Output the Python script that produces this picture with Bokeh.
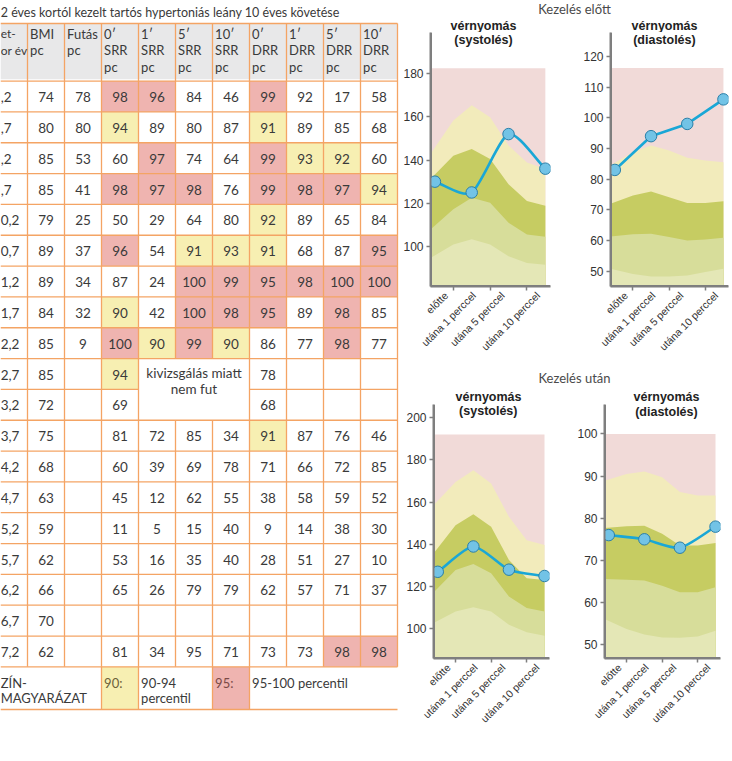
import math
from bokeh.plotting import figure
from bokeh.models import Range1d, FixedTicker
from bokeh.layouts import row, column
from bokeh.embed import file_html
from bokeh.resources import INLINE
from bokeh.core.properties import value

# ---------------- data: table ----------------
TITLE = "2 éves kortól kezelt tartós hypertoniás leány 10 éves követése"
AGE_HEADER = ["et-", "or év"]
COL_HEADERS = [["BMI", "pc"], ["Futás", "pc"],
               ["0′", "SRR", "pc"], ["1′", "SRR", "pc"], ["5′", "SRR", "pc"], ["10′", "SRR", "pc"],
               ["0′", "DRR", "pc"], ["1′", "DRR", "pc"], ["5′", "DRR", "pc"], ["10′", "DRR", "pc"]]
AGES = [",2", ",7", ",2", ",7", "0,2", "0,7", "1,2", "1,7", "2,2", "2,7",
        "3,2", "3,7", "4,2", "4,7", "5,2", "5,7", "6,2", "6,7", "7,2"]
BMI = [74, 80, 85, 85, 79, 89, 89, 84, 85, 85, 72, 75, 68, 63, 59, 62, 66, 70, 62]
FUTAS = [78, 80, 53, 41, 25, 37, 34, 32, 9, None, None, None, None, None, None, None, None, None, None]
SRR0 = [98, 94, 60, 98, 50, 96, 87, 90, 100, 94, 69, 81, 60, 45, 11, 53, 65, None, 81]
SRR1 = [96, 89, 97, 97, 29, 54, 24, 42, 90, None, None, 72, 39, 12, 5, 16, 26, None, 34]
SRR5 = [84, 80, 74, 98, 64, 91, 100, 100, 99, None, None, 85, 69, 62, 15, 35, 79, None, 95]
SRR10 = [46, 87, 64, 76, 80, 93, 99, 98, 90, None, None, 34, 78, 55, 40, 40, 79, None, 71]
DRR0 = [99, 91, 99, 99, 92, 91, 95, 95, 86, 78, 68, 91, 71, 38, 9, 28, 62, None, 73]
DRR1 = [92, 89, 93, 98, 89, 68, 98, 89, 77, None, None, 87, 66, 58, 14, 51, 57, None, 73]
DRR5 = [17, 85, 92, 97, 65, 87, 100, 98, 98, None, None, 76, 72, 59, 38, 27, 71, None, 98]
DRR10 = [58, 68, 60, 94, 84, 95, 100, 85, 77, None, None, 46, 85, 52, 30, 10, 37, None, 98]
# highlight per cell: P = 95-100 percentil, Y = 90-94 percentil
HIGHLIGHT = ["..PP..P...", "..Y...Y...", "...P..PYY.", "..PPP.PPPY", "......Y...",
             "..P.YYY..P", "....PPPPPP", "..Y.PPP.P.", "..PYPY..P.", "..Y.......",
             "..........", "......Y...", "..........", "..........", "..........",
             "..........", "..........", "..........", "........PP"]
MERGED_TEXT = ["kivizsgálás miatt", "nem fut"]
LEGEND_LEFT = ["ZÍN-", "MAGYARÁZAT"]
LEGEND_Y = "90:"
LEGEND_Y_TEXT = ["90-94", "percentil"]
LEGEND_P = "95:"
LEGEND_P_TEXT = "95-100 percentil"

# ---------------- data: charts ----------------
HEAD_BEFORE = "Kezelés előtt"
HEAD_AFTER = "Kezelés után"
T1 = "vérnyomás"
T2_SYS = "(systolés)"
T2_DIA = "(diastolés)"
X_LABELS = ["előtte", "utána 1 perccel", "utána 5 perccel", "utána 10 perccel"]
X_POS = [0, 1, 2, 3]
BX = [0, 0.5, 1, 1.5, 2, 2.5, 3]

SYS_BEFORE = [130, 125, 152, 136]
DIA_BEFORE = [83, 94, 98, 106]
SYS_AFTER = [127, 139, 128, 125]
DIA_AFTER = [76, 75, 73, 78]

SYS_BEFORE_P95 = [142.8, 158.3, 165.3, 159.8, 146.7, 138.9, 135.8]
SYS_BEFORE_P90 = [131.2, 142.0, 145.1, 140.5, 128.8, 121.1, 118.8]
SYS_BEFORE_P75 = [107.9, 117.2, 122.6, 120.3, 111.0, 105.6, 104.5]
SYS_BEFORE_P50 = [94.7, 100.9, 103.3, 100.9, 95.5, 92.4, 91.6]
SYS_BEFORE_TOP = 182.5

DIA_BEFORE_P95 = [84.5, 88.8, 91.0, 89.3, 87.0, 86.1, 85.5]
DIA_BEFORE_P90 = [72.0, 74.7, 76.0, 74.1, 72.2, 72.2, 72.8]
DIA_BEFORE_P75 = [61.3, 62.0, 62.2, 61.1, 60.0, 60.3, 60.9]
DIA_BEFORE_P50 = [50.8, 49.1, 48.3, 48.3, 48.6, 49.7, 50.8]
DIA_BEFORE_TOP = 116.2

SYS_AFTER_P95 = [158.6, 169.6, 175.1, 168.8, 153.1, 142.0, 139.7]
SYS_AFTER_P90 = [135.7, 149.1, 154.3, 148.3, 132.6, 123.9, 123.1]
SYS_AFTER_P75 = [117.2, 127.9, 130.7, 126.3, 115.3, 109.8, 108.2]
SYS_AFTER_P50 = [102.7, 108.2, 110.2, 108.2, 101.9, 98.3, 96.7]
SYS_AFTER_TOP = 192.1

DIA_AFTER_P95 = [88.9, 90.5, 91.1, 89.7, 86.2, 85.4, 85.4]
DIA_AFTER_P90 = [77.7, 78.1, 78.2, 76.3, 73.5, 73.5, 74.1]
DIA_AFTER_P75 = [65.6, 65.4, 65.2, 64.0, 62.4, 62.4, 63.6]
DIA_AFTER_P50 = [56.1, 53.7, 52.4, 51.7, 51.6, 51.9, 53.3]
DIA_AFTER_TOP = 100.0

SYS_TICKS_BEFORE = [100, 120, 140, 160, 180]
DIA_TICKS_BEFORE = [50, 60, 70, 80, 90, 100, 110, 120]
SYS_TICKS_AFTER = [100, 120, 140, 160, 180, 200]
DIA_TICKS_AFTER = [50, 60, 70, 80, 90, 100]

# ---------------- styles ----------------
TFONT = "Lato"
CFONT = "Liberation Sans"
TXT = "#3a3a3a"
ORANGE = "#f4a464"
YEL = "#f7efb2"
PINK = "#efb4b0"
HEAD_GRAY = "#e8e8e9"
C_PINK = "#f1dad8"
C_YEL = "#f2ebbb"
C_OLIVE = "#c6cc62"
C_LIGHT = "#d7dd9a"
C_LIGHTEST = "#e4e7b6"
C_LINE = "#1aa7d6"
AX = "#7f7f7f"
TOTAL_H = 760

# ---------------- table figure ----------------
RH = 30.83       # px per row
CW = 37.0        # px per column
Y0 = 80.6        # page y of first data row
X0 = 27.0        # page x of first numeric column
TW = 400
xl = (0 - X0) / CW
xr = (TW - X0) / CW
yt = (0 - Y0) / RH
yb = (TOTAL_H - Y0) / RH
HEAD_TOP = (23 - Y0) / RH
NROWS = len(AGES)
LEG_BOT = NROWS + (709 - (Y0 + NROWS * RH)) / RH
NCOLS = len(COL_HEADERS)

t = figure(width=TW, height=TOTAL_H, x_range=Range1d(xl, xr), y_range=Range1d(yb, yt),
           x_axis_type=None, y_axis_type=None, min_border=0,
           output_backend="svg", toolbar_location=None)
t.outline_line_color = None

t.quad(left=[xl], right=[NCOLS], top=[HEAD_TOP], bottom=[-0.06], fill_color=HEAD_GRAY, line_color=None)

cols = [BMI, FUTAS, SRR0, SRR1, SRR5, SRR10, DRR0, DRR1, DRR5, DRR10]
ql, qr, qt, qb, qc = [], [], [], [], []
for i, hl in enumerate(HIGHLIGHT):
    for k, ch in enumerate(hl):
        if ch in "PY":
            ql.append(k); qr.append(k + 1); qt.append(i); qb.append(i + 1)
            qc.append(PINK if ch == "P" else YEL)
ql += [2, 5]; qr += [3, 6]; qt += [NROWS, NROWS]; qb += [LEG_BOT, LEG_BOT]; qc += [YEL, PINK]
t.quad(left=ql, right=qr, top=qt, bottom=qb, fill_color=qc, line_color=None)

sx0, sy0, sx1, sy1 = [], [], [], []
sx0.append(xl); sx1.append(NCOLS); sy0.append(HEAD_TOP); sy1.append(HEAD_TOP)
for i in range(NROWS + 1):
    if i == 10:
        sx0 += [xl, 6]; sx1 += [3, NCOLS]; sy0 += [i, i]; sy1 += [i, i]
    else:
        sx0.append(xl); sx1.append(NCOLS); sy0.append(i); sy1.append(i)
sx0.append(xl); sx1.append(NCOLS); sy0.append(LEG_BOT); sy1.append(LEG_BOT)
for k in range(NCOLS + 1):
    if k in (4, 5):
        sx0 += [k, k]; sx1 += [k, k]; sy0 += [HEAD_TOP, 11]; sy1 += [9, NROWS]
    else:
        sx0.append(k); sx1.append(k); sy0.append(HEAD_TOP); sy1.append(NROWS)
for k in (2, 3, 5, 6):
    sx0.append(k); sx1.append(k); sy0.append(NROWS); sy1.append(LEG_BOT)
t.segment(x0=sx0, y0=sy0, x1=sx1, y1=sy1, line_color=ORANGE, line_width=1.3)

t.text(x=[xl + 0.005], y=[(12 - Y0) / RH], text=[TITLE], text_font=value(TFONT),
       text_font_size="12.5px", text_color=TXT, text_baseline="middle", text_align="left")

line_y = [(33 - Y0) / RH, (49.5 - Y0) / RH, (66 - Y0) / RH]
t.text(x=[xl + 0.005] * 2, y=line_y[:2], text=AGE_HEADER, text_font=value(TFONT),
       text_font_size="12px", text_color=TXT, text_baseline="middle", text_align="left")
hx, hy, ht = [], [], []
for k, lines in enumerate(COL_HEADERS):
    for j, s in enumerate(lines):
        hx.append(k + 0.07); hy.append(line_y[j]); ht.append(s)
t.text(x=hx, y=hy, text=ht, text_font=value(TFONT), text_font_size="13px", text_color=TXT,
       text_baseline="middle", text_align="left")

nx, ny, nt = [], [], []
for i in range(NROWS):
    for k, col in enumerate(cols):
        v = col[i]
        if v is not None:
            nx.append(k + 0.5); ny.append(i + 0.52); nt.append(str(v))
t.text(x=nx, y=ny, text=nt, text_font=value(TFONT), text_font_size="13.5px", text_color=TXT,
       text_baseline="middle", text_align="center")
t.text(x=[xl + 0.005] * NROWS, y=[i + 0.52 for i in range(NROWS)], text=AGES, text_font=value(TFONT),
       text_font_size="13.5px", text_color=TXT, text_baseline="middle", text_align="left")

t.text(x=[4.5, 4.5], y=[9.48, 9.98], text=MERGED_TEXT, text_font=value(TFONT), text_font_size="13.5px",
       text_color=TXT, text_baseline="middle", text_align="center")

ly1 = (682 - Y0) / RH
ly2 = (697 - Y0) / RH
t.text(x=[xl + 0.005, xl + 0.005], y=[ly1, ly2], text=LEGEND_LEFT, text_font=value(TFONT),
       text_font_size="13px", text_color=TXT, text_baseline="middle", text_align="left")
t.text(x=[2.07], y=[ly1], text=[LEGEND_Y], text_font=value(TFONT), text_font_size="13px",
       text_color="#6d5f3a", text_baseline="middle", text_align="left")
t.text(x=[3.07, 3.07], y=[ly1, ly2], text=LEGEND_Y_TEXT, text_font=value(TFONT), text_font_size="13px",
       text_color=TXT, text_baseline="middle", text_align="left")
t.text(x=[5.07], y=[ly1], text=[LEGEND_P], text_font=value(TFONT), text_font_size="13px",
       text_color="#7a4a46", text_baseline="middle", text_align="left")
t.text(x=[6.07], y=[ly1], text=[LEGEND_P_TEXT], text_font=value(TFONT), text_font_size="13px",
       text_color=TXT, text_baseline="middle", text_align="left")

# ---------------- charts ----------------
XS, XE = -0.12, 3.14
LABEL_POS = [0.3, 1.06, 1.84, 2.8]
TENSION = 0.7


def cardinal(xs, ys):
    n = len(xs)
    mx, my = [], []
    for i in range(n):
        a = max(i - 1, 0)
        b = min(i + 1, n - 1)
        f = (0.5 if 0 < i < n - 1 else 1.0) * TENSION
        mx.append((xs[b] - xs[a]) * f)
        my.append((ys[b] - ys[a]) * f)
    out = dict(x0=[], y0=[], x1=[], y1=[], cx0=[], cy0=[], cx1=[], cy1=[])
    for i in range(n - 1):
        out["x0"].append(xs[i]); out["y0"].append(ys[i])
        out["x1"].append(xs[i + 1]); out["y1"].append(ys[i + 1])
        out["cx0"].append(xs[i] + mx[i] / 3); out["cy0"].append(ys[i] + my[i] / 3)
        out["cx1"].append(xs[i + 1] - mx[i + 1] / 3); out["cy1"].append(ys[i + 1] - my[i + 1] / 3)
    return out


def chart(width, bl, br, height, bb, yr, ticks, top, bands, pts, smooth, t2, tx, ty):
    p = figure(width=width, height=height, x_range=Range1d(XS, XE), y_range=Range1d(*yr),
               min_border_left=bl, min_border_right=br, min_border_top=0, min_border_bottom=bb,
               output_backend="svg", toolbar_location=None)
    p.outline_line_color = None
    p.xgrid.visible = False
    p.ygrid.visible = False
    bxd = [XS] + BX[1:]
    p.quad(left=[XS], right=[BX[-1]], bottom=[yr[0]], top=[top], fill_color=C_PINK, line_color=None)
    for band, colr in zip(bands, [C_YEL, C_OLIVE, C_LIGHT, C_LIGHTEST]):
        p.varea(x=bxd, y1=[yr[0]] * len(bxd), y2=band, fill_color=colr)
    # axis rule along the frame edges (backs up the axis line)
    p.segment(x0=[XS, XS], y0=[yr[0], yr[0]], x1=[XS, XE], y1=[yr[1], yr[0]],
              line_color=AX, line_width=3)
    if smooth:
        p.bezier(line_color=C_LINE, line_width=2.6, **cardinal(X_POS, pts))
    else:
        p.line(X_POS, pts, line_color=C_LINE, line_width=2.6)
    p.scatter(X_POS, pts, size=11.5, fill_color="#72c3e6", line_color="#2b7fa8", line_width=1)

    p.text(x=[tx], y=[ty], text=[t2], text_align="center", text_baseline="middle",
           text_font=value(CFONT), text_font_size="12.5px", text_font_style="bold", text_color="#222222")

    for ax in (p.xaxis[0], p.yaxis[0]):
        ax.axis_line_color = AX
        ax.axis_line_width = 2
        ax.major_label_text_font = CFONT
        ax.major_label_text_color = "#333333"

    ya = p.yaxis[0]
    ya.ticker = FixedTicker(ticks=ticks)
    ya.major_tick_out = 4
    ya.major_tick_in = 0
    ya.major_tick_line_color = AX
    ya.major_tick_line_width = 1.5
    ya.minor_tick_line_color = None
    ya.major_label_text_font_size = "12px"
    ya.major_label_standoff = 3

    xa = p.xaxis[0]
    xa.ticker = FixedTicker(ticks=LABEL_POS, minor_ticks=[0.5, 1.5, 2.5])
    xa.major_label_overrides = {pos: lab for pos, lab in zip(LABEL_POS, X_LABELS)}
    xa.major_tick_line_color = None
    xa.major_tick_out = 4
    xa.major_tick_in = 0
    xa.minor_tick_out = 4
    xa.minor_tick_in = 0
    xa.minor_tick_line_color = AX
    xa.minor_tick_line_width = 1.5
    xa.major_label_orientation = math.pi / 4
    xa.major_label_text_font_size = "10.5px"
    xa.major_label_standoff = 3
    return p


def header(text, h, ty, title_xs, title_y):
    f = figure(width=332, height=h, x_range=Range1d(400, 732), y_range=Range1d(h, 0),
               x_axis_type=None, y_axis_type=None, min_border=0,
               output_backend="svg", toolbar_location=None)
    f.outline_line_color = None
    f.text(x=[574], y=[ty], text=[text], text_align="center", text_baseline="middle",
           text_font=value(TFONT), text_font_size="13px", text_color="#4a4a4a")
    f.text(x=title_xs, y=[title_y] * len(title_xs), text=[T1] * len(title_xs),
           text_align="center", text_baseline="middle", text_font=value(CFONT),
           text_font_size="12.5px", text_font_style="bold", text_color="#222222")
    return f


h1 = header(HEAD_BEFORE, 32, 8, [483, 664], 25)
p1 = chart(170, 30, 20, 336, 82, (81.5, 199.0), SYS_TICKS_BEFORE, SYS_BEFORE_TOP,
           [SYS_BEFORE_P95, SYS_BEFORE_P90, SYS_BEFORE_P75, SYS_BEFORE_P50], SYS_BEFORE, True,
           T2_SYS, 1.32, 195.5)
p2 = chart(162, 40, 4, 336, 82, (45.0, 127.8), DIA_TICKS_BEFORE, DIA_BEFORE_TOP,
           [DIA_BEFORE_P95, DIA_BEFORE_P90, DIA_BEFORE_P75, DIA_BEFORE_P50], DIA_BEFORE, False,
           T2_DIA, 1.37, 125.4)
h2 = header(HEAD_AFTER, 36, 9, [488, 666], 28.7)
p3 = chart(170, 33, 21, 356, 102, (85.9, 206.3), SYS_TICKS_AFTER, SYS_AFTER_TOP,
           [SYS_AFTER_P95, SYS_AFTER_P90, SYS_AFTER_P75, SYS_AFTER_P50], SYS_AFTER, True,
           T2_SYS, 1.42, 203.0)
p4 = chart(162, 34, 12, 356, 102, (46.7, 107.0), DIA_TICKS_AFTER, DIA_AFTER_TOP,
           [DIA_AFTER_P95, DIA_AFTER_P90, DIA_AFTER_P75, DIA_AFTER_P50], DIA_AFTER, True,
           T2_DIA, 1.62, 105.3)

right = column(h1, row(p1, p2), h2, row(p3, p4))
layout = row(t, right)

open("out.html", "w").write(file_html(layout, INLINE))
